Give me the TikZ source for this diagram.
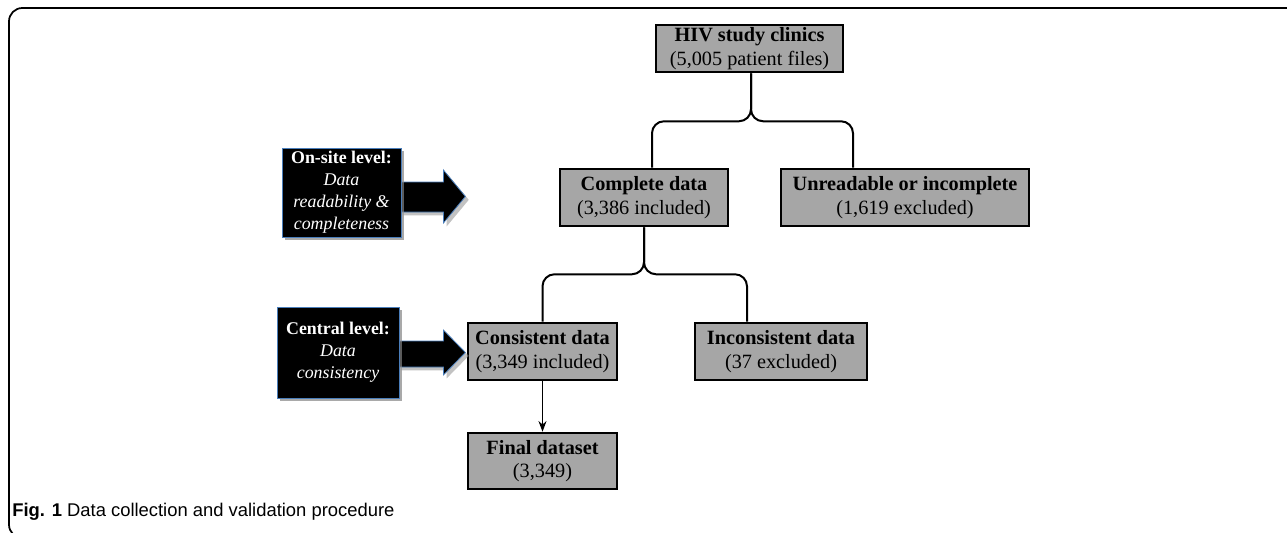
\documentclass[tikz,border=0pt]{standalone}
\usepackage{fontspec}
\setmainfont{Liberation Serif}
\newfontfamily\capfont{Liberation Sans}
\usetikzlibrary{calc,arrows.meta,shadows}
\definecolor{boxgray}{HTML}{A6A6A6}
\definecolor{steel}{HTML}{4A7EBB}
\tikzset{
  graybox/.style={draw=black, line width=1.9pt, fill=boxgray, inner sep=0pt, align=center,
    font=\fontsize{15.2}{17.5}\selectfont},
  blackbox/.style={draw=steel, line width=0.6pt, fill=black, text=white, inner sep=0pt, align=center,
    font=\fontsize{13.4}{16.5}\selectfont, drop shadow={shadow xshift=2.5pt, shadow yshift=-2.5pt, fill=black!40, opacity=0.6}},
  blockarrow/.style={draw=steel, line width=0.6pt, fill=black, drop shadow={shadow xshift=2.5pt, shadow yshift=-2.5pt, fill=black!40, opacity=0.6}},
  brace/.style={draw=black, line width=1.5pt, rounded corners=9pt},
  thinarrow/.style={draw=black, line width=0.9pt, -{Stealth[length=8pt,width=6pt]}},
}
\begin{document}
\begin{tikzpicture}[x=0.75pt,y=-0.75pt]
\useasboundingbox (0,0) rectangle (1287,532);
% frame
\draw[line width=1.3pt, rounded corners=10pt] (1287,8) -- (9,8) -- (9,538) -- (60,538);

% gray boxes
\node[graybox, minimum width=187*0.75pt, minimum height=47*0.75pt] (hiv) at (749.5,48.5)
  {\textbf{HIV study clinics}\\(5,005 patient files)};
\node[graybox, minimum width=168*0.75pt, minimum height=57*0.75pt] (complete) at (644,197.5)
  {\textbf{Complete data}\\(3,386 included)};
\node[graybox, minimum width=248*0.75pt, minimum height=57*0.75pt] (unread) at (905,197.5)
  {\textbf{Unreadable or incomplete}\\(1,619 excluded)};
\node[graybox, minimum width=149*0.75pt, minimum height=57*0.75pt] (consistent) at (542.5,351.5)
  {\textbf{Consistent data}\\(3,349 included)};
\node[graybox, minimum width=172*0.75pt, minimum height=57*0.75pt] (inconsistent) at (781,351.5)
  {\textbf{Inconsistent data}\\(37 excluded)};
\node[graybox, minimum width=149*0.75pt, minimum height=56*0.75pt] (final) at (542.5,461)
  {\textbf{Final dataset}\\(3,349)};

% braces
\coordinate (b1) at ($(hiv.south)+(1.5,48)$);
\draw[brace] (hiv.south -| b1) -- (b1) -| ([xshift=8*0.75pt]complete.north);
\draw[brace] (hiv.south -| b1) -- (b1) -| ([xshift=-52*0.75pt]unread.north);
\coordinate (b2) at ($(complete.south)+(0,47)$);
\draw[brace] (complete.south) -- (b2) -| (consistent.north);
\draw[brace] (complete.south) -- (b2) -| ([xshift=-34*0.75pt]inconsistent.north);

% arrow to final
\draw[thinarrow] (consistent.south) -- (final.north);

% black boxes with block arrows
\node[blackbox, minimum width=119*0.75pt, minimum height=89*0.75pt] (onsite) at (341.5,192.5) {};
\fill[blockarrow] ($(onsite.east)+(-2,-10.5)$) -- ($(onsite.east)+(42,-10.5)$) -- ($(onsite.east)+(42,-22.5)$)
  -- ($(onsite.east)+(64,4)$) -- ($(onsite.east)+(42,30.5)$) -- ($(onsite.east)+(42,19.5)$) -- ($(onsite.east)+(-2,19.5)$) -- cycle;
\node[blackbox, minimum width=119*0.75pt, minimum height=89*0.75pt] (onsite2) at (341.5,192.5)
  {\textbf{On-site level:}\\\textit{Data}\\\textit{readability \&}\\\textit{completeness}};

\node[blackbox, minimum width=122*0.75pt, minimum height=91*0.75pt] (central) at (338,352.5) {};
\fill[blockarrow] ($(central.east)+(-2,-11.5)$) -- ($(central.east)+(44,-11.5)$) -- ($(central.east)+(44,-22.5)$)
  -- ($(central.east)+(66,0)$) -- ($(central.east)+(44,22.5)$) -- ($(central.east)+(44,14.5)$) -- ($(central.east)+(-2,14.5)$) -- cycle;
\node[blackbox, minimum width=122*0.75pt, minimum height=91*0.75pt] (central2) at (338,352.5)
  {\textbf{Central level:}\\\textit{Data}\\\textit{consistency}};

% caption
\node[anchor=west, inner sep=0pt, font=\capfont\fontsize{13.8}{15}\selectfont] (cap) at (12,512)
  {\textbf{Fig. 1} Data collection and validation procedure};
\end{tikzpicture}
\end{document}
